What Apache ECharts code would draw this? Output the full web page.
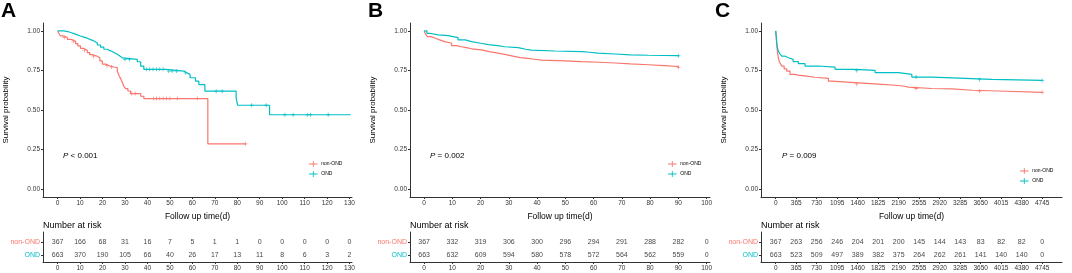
<!DOCTYPE html>
<html>
<head>
<meta charset="utf-8">
<script src="https://cdn.jsdelivr.net/npm/echarts@6/dist/echarts.min.js"></script>
<style>
  html, body { margin: 0; padding: 0; background: #fff; }
  #chart { width: 1072px; height: 273px; }
</style>
</head>
<body>
<div id="chart"></div>
<script>
// ---- data ----
// panel A: Kaplan-Meier steps [time, survival]
const curveA_non = [[0,1],[0.5,0.985],[1.3,0.968],[2.5,0.96],[4.3,0.947],[6,0.935],[8,0.92],[9,0.905],[10.2,0.89],[11.5,0.878],[13.2,0.863],[14.3,0.85],[15.4,0.84],[17.7,0.83],[18.8,0.81],[19.9,0.79],[21.4,0.78],[23,0.772],[25,0.767],[26.6,0.745],[27.3,0.72],[28,0.7],[28.8,0.675],[29.5,0.65],[30.3,0.635],[31.3,0.62],[32.5,0.604],[37,0.587],[38.4,0.572],[66.9,0.286],[83.7,0.286]];
const curveA_ond = [[0,1],[2.8,0.996],[4.5,0.99],[5.8,0.983],[7.3,0.975],[8.8,0.968],[10.2,0.961],[11.7,0.954],[13.2,0.945],[14.7,0.936],[16.2,0.924],[17.7,0.911],[19.1,0.897],[20.6,0.884],[22.1,0.874],[23.6,0.863],[25.1,0.852],[26.6,0.841],[27.7,0.83],[28.8,0.82],[35.5,0.805],[37,0.778],[38.4,0.757],[48,0.746],[56.2,0.735],[57.5,0.725],[59,0.704],[61.4,0.682],[62.9,0.66],[65.6,0.619],[79.5,0.577],[80.2,0.53],[94.4,0.47],[130.5,0.47]];
const censorA_non = [[3,0.96],[7,0.935],[12,0.878],[16,0.84],[22,0.78],[24,0.772],[33,0.604],[34.5,0.604],[42.8,0.572],[44,0.572],[45.5,0.572],[47,0.572],[48.5,0.572],[50,0.572],[53.3,0.572],[62.2,0.572],[83.7,0.286]];
const censorA_ond = [[30,0.82],[32,0.82],[39.5,0.757],[41,0.757],[42.5,0.757],[44,0.757],[45.5,0.757],[47,0.757],[49.5,0.746],[51,0.746],[53,0.746],[57,0.735],[70.6,0.619],[73.3,0.619],[86.4,0.53],[92.9,0.53],[101.2,0.47],[104.9,0.47],[111.2,0.47],[112.6,0.47],[120.5,0.47]];
const timesA = [0,10,20,30,40,50,60,70,80,90,100,110,120,130];
const riskA_non = [367,166,68,31,16,7,5,1,1,0,0,0,0,0];
const riskA_ond = [663,370,190,105,66,40,26,17,13,11,8,6,3,2];

// panel B
const curveB_non = [[0,1],[0.5,0.98],[1.2,0.964],[2.5,0.955],[3.8,0.943],[5.5,0.932],[7.3,0.922],[9.7,0.907],[11.5,0.9],[13.2,0.894],[15,0.887],[16.8,0.88],[20.3,0.869],[23,0.86],[26.2,0.852],[28.5,0.842],[31,0.831],[34,0.826],[36.8,0.821],[39,0.815],[41.6,0.81],[49.8,0.806],[55.8,0.802],[62,0.797],[67.6,0.791],[73,0.786],[79.4,0.78],[85,0.775],[90,0.77]];
const curveB_ond = [[0,1],[1,0.985],[2,0.975],[5,0.97],[8.5,0.958],[12,0.943],[14.5,0.932],[16.8,0.922],[20,0.913],[22.7,0.907],[26,0.9],[28.6,0.894],[33.3,0.884],[36,0.878],[38,0.873],[46.3,0.869],[55.8,0.865],[58.5,0.86],[61.6,0.854],[67.6,0.848],[73,0.846],[79.4,0.844],[90,0.843]];
const censorB_non = [[90,0.77]];
const censorB_ond = [[90,0.843]];
const timesB = [0,10,20,30,40,50,60,70,80,90,100];
const riskB_non = [367,332,319,306,300,296,294,291,288,282,0];
const riskB_ond = [663,632,609,594,580,578,572,564,562,559,0];

// panel C
const curveC_non = [[0,1],[10,0.96],[18,0.915],[27,0.88],[36,0.852],[48,0.83],[60,0.81],[80,0.795],[107,0.778],[150,0.76],[196,0.746],[255,0.725],[330,0.72],[403,0.714],[550,0.707],[700,0.7],[938,0.682],[997,0.672],[1472,0.665],[1770,0.655],[2185,0.65],[2300,0.645],[2364,0.636],[2780,0.634],[3136,0.625],[3500,0.62],[3967,0.612],[4745,0.612]];
const curveC_ond = [[0,1],[10,0.96],[18,0.926],[30,0.895],[46,0.873],[75,0.855],[107,0.841],[160,0.83],[225,0.82],[310,0.806],[403,0.793],[522,0.778],[759,0.771],[1057,0.757],[1413,0.75],[1770,0.736],[2185,0.725],[2424,0.708],[2780,0.7],[3373,0.693],[3849,0.687],[4745,0.687]];
const censorC_non = [[1442,0.665],[2500,0.636],[3630,0.62],[4745,0.612]];
const censorC_ond = [[1442,0.75],[2500,0.708],[3630,0.693],[4745,0.687]];
const timesC = [0,365,730,1095,1460,1825,2190,2555,2920,3285,3650,4015,4380,4745];
const riskC_non = [367,263,256,246,204,201,200,145,144,143,83,82,82,0];
const riskC_ond = [663,523,509,497,389,382,375,264,262,261,141,140,140,0];

const yTicks = [0, 0.25, 0.5, 0.75, 1];
const groups = ['non-OND', 'OND'];

// ---- styling ----
const RED = '#F8766D';
const TEAL = '#00BFC4';
const AXIS = '#333';
const TICKTXT = '#333';
const PLUS = 'path://M4,0h2v10h-2zM0,4h10v2h-10z';

// 面板布局
const panels = [
  { letter: 'A', p: '< 0.001', left: 43, width: 309, xMin: -6.5, xMax: 131.1, ticks: timesA,
    non: curveA_non, ond: curveA_ond, cNon: censorA_non, cOnd: censorA_ond, rNon: riskA_non, rOnd: riskA_ond,
    letterLeft: 1, pLeft: 63, legendLeft: 309, legendTop: 161 },
  { letter: 'B', p: '= 0.002', left: 410, width: 300, xMin: -5, xMax: 101.2, ticks: timesB,
    non: curveB_non, ond: curveB_ond, cNon: censorB_non, cOnd: censorB_ond, rNon: riskB_non, rOnd: riskB_ond,
    letterLeft: 368, pLeft: 430, legendLeft: 668, legendTop: 161 },
  { letter: 'C', p: '= 0.009', left: 761, width: 301, xMin: -262, xMax: 5098, ticks: timesC,
    non: curveC_non, ond: curveC_ond, cNon: censorC_non, cOnd: censorC_ond, rNon: riskC_non, rOnd: riskC_ond,
    letterLeft: 715, pLeft: 782, legendLeft: 1020, legendTop: 168 }
];

const chart = echarts.init(document.getElementById('chart'));

const grid = [], xAxis = [], yAxis = [], series = [], title = [], legend = [];

function xAx(pn, gi, withName) {
  return {
    gridIndex: gi, type: 'value', min: pn.xMin, max: pn.xMax,
    axisLine: { show: true, onZero: false, lineStyle: { color: AXIS, width: 1 } },
    axisTick: { show: true, customValues: pn.ticks, length: 2, lineStyle: { color: AXIS } },
    axisLabel: { customValues: pn.ticks, formatter: v => String(v), fontSize: 6.5, color: TICKTXT, margin: 3, fontFamily: 'Liberation Sans' },
    splitLine: { show: false },
    name: withName ? 'Follow up time(d)' : '',
    nameLocation: 'middle', nameGap: 13,
    nameTextStyle: { fontSize: 8.5, color: '#000', fontFamily: 'Liberation Sans' }
  };
}

panels.forEach((pn, i) => {
  const g = 2 * i, r = 2 * i + 1;
  grid.push({ left: pn.left, top: 23, width: pn.width, height: 174 });
  grid.push({ left: pn.left, top: 232, width: pn.width, height: 30 });

  xAxis.push(xAx(pn, g, true));
  xAxis.push(xAx(pn, r, false));

  yAxis.push({
    gridIndex: g, type: 'value', min: -0.05, max: 1.05,
    axisLine: { show: true, onZero: false, lineStyle: { color: AXIS, width: 1 } },
    axisTick: { show: true, customValues: yTicks, length: 2, lineStyle: { color: AXIS } },
    axisLabel: { customValues: yTicks, formatter: v => v.toFixed(2), fontSize: 6.5, color: TICKTXT, margin: 3, fontFamily: 'Liberation Sans' },
    splitLine: { show: false },
    name: 'Survival probability', nameLocation: 'middle', nameGap: 33, nameRotate: 90,
    nameTextStyle: { fontSize: 8, color: '#000', fontFamily: 'Liberation Sans' }
  });
  // risk table rows: 2 = non-OND, 1 = OND
  yAxis.push({
    gridIndex: r, type: 'value', min: 0.46, max: 2.77,
    axisLine: { show: true, onZero: false, lineStyle: { color: AXIS, width: 1 } },
    axisTick: { show: true, customValues: [1, 2], length: 2, lineStyle: { color: AXIS } },
    axisLabel: {
      customValues: [1, 2], margin: 3,
      formatter: v => v === 2 ? '{r|' + groups[0] + '}' : '{t|' + groups[1] + '}',
      rich: {
        r: { color: RED, fontSize: 7, fontFamily: 'Liberation Sans' },
        t: { color: TEAL, fontSize: 7, fontFamily: 'Liberation Sans' }
      }
    },
    splitLine: { show: false }
  });

  // KM curves
  [[groups[0], pn.non, RED], [groups[1], pn.ond, TEAL]].forEach(([name, d, c]) => {
    series.push({
      name: name, type: 'line', step: 'end', xAxisIndex: g, yAxisIndex: g,
      data: d, showSymbol: false, symbol: 'none', silent: true,
      lineStyle: { color: c, width: 1.2 }, itemStyle: { color: c }
    });
  });
  // censor marks
  [[groups[0], pn.cNon, RED], [groups[1], pn.cOnd, TEAL]].forEach(([name, d, c]) => {
    series.push({
      name: name, type: 'scatter', xAxisIndex: g, yAxisIndex: g,
      data: d, symbol: PLUS, symbolSize: 4, itemStyle: { color: c }, silent: true
    });
  });
  // number at risk
  [[pn.rNon, 2], [pn.rOnd, 1]].forEach(([arr, row]) => {
    series.push({
      type: 'scatter', xAxisIndex: r, yAxisIndex: r, silent: true,
      data: pn.ticks.map((t, k) => [t, row, arr[k]]),
      symbolSize: 1, itemStyle: { color: 'rgba(0,0,0,0)' },
      label: {
        show: true, position: 'inside', formatter: p => p.value[2],
        fontSize: 7, color: '#111', fontFamily: 'Liberation Sans'
      }
    });
  });

  title.push({ text: pn.letter, left: pn.letterLeft, top: 1, padding: 0,
    textStyle: { fontSize: 21, fontWeight: 'bold', color: '#000', fontFamily: 'Liberation Sans' } });
  title.push({ text: '{i|P} ' + pn.p, left: pn.pLeft, top: 152, padding: 0,
    textStyle: { fontSize: 8, fontWeight: 'normal', color: '#000', fontFamily: 'Liberation Sans',
      rich: { i: { fontStyle: 'italic', fontSize: 8, color: '#000', fontFamily: 'Liberation Sans' } } } });
  title.push({ text: 'Number at risk', left: pn.left, top: 221, padding: 0,
    textStyle: { fontSize: 9, fontWeight: 'normal', color: '#000', fontFamily: 'Liberation Sans' } });

  legend.push({
    left: pn.legendLeft, top: pn.legendTop, orient: 'vertical', padding: 0,
    itemWidth: 10, itemHeight: 6, itemGap: 4, selectedMode: false,
    data: [
      { name: groups[0], icon: 'path://M0,4.5h10v1h-10zM4.5,1.5h1v7h-1z', itemStyle: { color: RED } },
      { name: groups[1], icon: 'path://M0,4.5h10v1h-10zM4.5,1.5h1v7h-1z', itemStyle: { color: TEAL } }
    ],
    textStyle: { fontSize: 5, color: '#000', fontFamily: 'Liberation Sans', padding: [0, 0, 0, -2] }
  });
});

chart.setOption({
  animation: false,
  backgroundColor: '#fff',
  title: title,
  legend: legend,
  grid: grid,
  xAxis: xAxis,
  yAxis: yAxis,
  series: series
});

window.addEventListener('resize', chart.resize);
</script>
</body>
</html>
